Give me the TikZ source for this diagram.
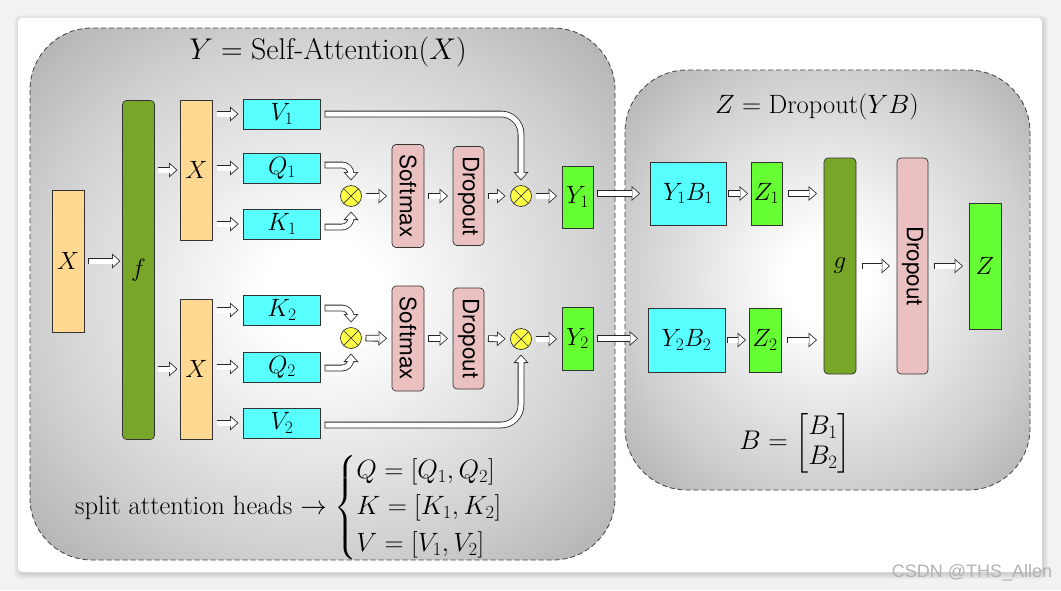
\RequirePackage{fix-cm}
\documentclass[tikz,border=0pt]{standalone}
\usepackage{amsmath}
\usepackage{graphicx}
\usepackage{fontspec}
\newfontfamily\hvfont{TeX Gyre Heros}
\newfontfamily\wmfont{Liberation Sans}
\usetikzlibrary{arrows.meta,calc}
\definecolor{cOrange}{HTML}{FFD991}
\definecolor{cOlive}{HTML}{77A628}
\definecolor{cCyan}{HTML}{57FFFF}
\definecolor{cPink}{HTML}{EBC0C0}
\definecolor{cGreen}{HTML}{66FF33}
\definecolor{cYellow}{HTML}{FFFF44}
\colorlet{pshA}{black!19}
\colorlet{pshB}{black!32}
\pgfdeclareradialshading{panelshade}{\pgfpoint{0bp}{0bp}}{color(0bp)=(white); color(5bp)=(white); color(25bp)=(pshA); color(36bp)=(pshB); color(50bp)=(pshB)}
\begin{document}
\begin{tikzpicture}[x=1pt,y=-1pt,
  every node/.style={inner sep=0pt, outer sep=0pt},
  lab/.style={font=\fontsize{25}{29}\selectfont},
  blk/.style={draw=black!80, line width=0.7pt, lab},
  orangebox/.style={blk, fill=cOrange, minimum width=32pt},
  olivebox/.style={blk, fill=cOlive, rounded corners=4pt, minimum width=32pt},
  cyanbox/.style={blk, fill=cCyan, minimum width=77pt, minimum height=30pt},
  greenbox/.style={blk, fill=cGreen, minimum width=31pt},
  pinkbox/.style={blk, fill=cPink, rounded corners=4pt, minimum width=32pt, font=\hvfont\fontsize{22.5}{26}\selectfont},
  mult/.style={circle, draw=black!80, line width=0.7pt, fill=cYellow, minimum size=21pt,
    path picture={\draw[line width=0.7pt]
      ([shift={(45:10.5pt)}]path picture bounding box.center) -- ([shift={(225:10.5pt)}]path picture bounding box.center)
      ([shift={(135:10.5pt)}]path picture bounding box.center) -- ([shift={(-45:10.5pt)}]path picture bounding box.center);}},
  harrow/.style 2 args={
    preaction={draw=black!85, line width=6.6pt, -{Triangle[length=8.5pt, width=15pt, line width=0pt]},
      shorten <=#1, shorten >=#2},
    draw=white, line width=5pt, -{Triangle[length=6.49pt, width=11.45pt, line width=0pt]},
    shorten <=#1+0.8pt, shorten >=#2+1.21pt},
  hA/.style={harrow={4pt}{5pt}},
  panel/.style={draw=black!75, line width=0.8pt, dash pattern=on 5pt off 3pt, rounded corners=62pt, shade, shading=panelshade}
]
% background and card
\fill[black!5] (0,0) rectangle (1061,590);
\foreach \i in {1,...,6}{
  \fill[black, opacity=0.025, rounded corners=6pt] (18-\i+2,18-\i+3) rectangle (1042+\i,572+\i+1);
}
\fill[white, rounded corners=4pt] (18,18) rectangle (1042,572);
\useasboundingbox (0,0) rectangle (1061,590);

% panels
\path[panel] (30,28) rectangle (615,560);
\path[panel] (625,70) rectangle (1030,490);

\node[font=\fontsize{30}{34}\selectfont] (t1) at (328,52) {$Y = \text{Self-Attention}(X)$};
\node[font=\fontsize{26.5}{30}\selectfont] (t2) at (817,107) {$Z = \text{Dropout}(Y B)$};

% left part
\node[orangebox, minimum height=142pt] (X0) at (68,261) {$X$};
\node[olivebox, minimum height=339pt] (f) at (138.5,270) {$f$};
\node[orangebox, minimum height=140pt] (Xa) at (196.5,170) {$X$};
\node[orangebox, minimum height=140pt] (Xb) at (196.5,369) {$X$};

\node[cyanbox] (V1) at (282,114) {$V_1$};
\node[cyanbox] (Q1) at (282,168) {$Q_1$};
\node[cyanbox] (K1) at (282,224) {$K_1$};
\node[cyanbox] (K2) at (282,310) {$K_2$};
\node[cyanbox] (Q2) at (282,367) {$Q_2$};
\node[cyanbox] (V2) at (282,423) {$V_2$};

\node[mult] (m1) at (351,196) {};
\node[mult] (m2) at (351,338) {};
\node[pinkbox, minimum height=103pt] (S1) at (408,196) {\rotatebox{-90}{Softmax}};
\node[pinkbox, minimum height=99pt, minimum width=31pt] (D1) at (468.5,196) {\rotatebox{-90}{Dropout}};
\node[pinkbox, minimum height=105pt] (S2) at (408,338.5) {\rotatebox{-90}{Softmax}};
\node[pinkbox, minimum height=101pt, minimum width=31pt] (D2) at (468.5,338.5) {\rotatebox{-90}{Dropout}};
\node[mult] (n1) at (521,196) {};
\node[mult] (n2) at (521,339) {};
\node[greenbox, minimum height=62pt] (Y1) at (577.5,197) {$Y_1$};
\node[greenbox, minimum height=63pt] (Y2) at (577.5,338.5) {$Y_2$};

% right part
\node[cyanbox, minimum width=76pt, minimum height=63pt] (YB1) at (688,193.5) {$Y_1B_1$};
\node[greenbox, minimum height=63pt] (Z1) at (766.5,193.5) {$Z_1$};
\node[cyanbox, minimum width=77pt, minimum height=64pt] (YB2) at (686.5,340) {$Y_2B_2$};
\node[greenbox, minimum width=32pt, minimum height=64pt] (Z2) at (765,340) {$Z_2$};
\node[olivebox, minimum height=216pt] (g) at (840,266) {$g$};
\node[pinkbox, minimum width=31pt, minimum height=216pt] (Dr) at (912.5,266) {\rotatebox{-90}{Dropout}};
\node[greenbox, minimum width=32pt, minimum height=126pt] (Z) at (985,266) {$Z$};

\node[font=\fontsize{27}{30}\selectfont] (Bm) at (795,443) {$B = \begin{bmatrix} B_1\\ B_2\end{bmatrix}$};
\node[font=\fontsize{26.5}{29}\selectfont] (split) at (302,508) {split attention heads $\rightarrow \begin{cases} Q=[Q_1,Q_2]\\[2pt] K=[K_1,K_2]\\[2pt] V=[V_1,V_2]\end{cases}$};

% connectors
\draw[harrow={4pt}{2pt}] (X0.east) -- (X0.east -| f.west);
\draw[harrow={3pt}{3pt}] (f.east |- Xa.west) -- (Xa.west);
\draw[harrow={3pt}{3pt}] (f.east |- Xb.west) -- (Xb.west);
\foreach \n in {V1,Q1,K1}{\draw[hA] (Xa.east |- \n.west) -- (\n.west);}
\foreach \n in {K2,Q2,V2}{\draw[hA] (Xb.east |- \n.west) -- (\n.west);}

\draw[hA, rounded corners=9pt] ([yshift=3pt]Q1.east) -| (m1.north);
\draw[hA, rounded corners=9pt] ([yshift=-3pt]K1.east) -| (m1.south);
\draw[hA, rounded corners=9pt] ([yshift=2pt]K2.east) -| (m2.north);
\draw[hA, rounded corners=9pt] ([yshift=-1pt]Q2.east) -| (m2.south);
\draw[hA, rounded corners=20pt] (V1.east) -| (n1.north);
\draw[hA, rounded corners=20pt] ([yshift=-2pt]V2.east) -| (n2.south);

\draw[hA] (m1) -- (S1);
\draw[hA] (S1) -- (D1);
\draw[hA] (D1) -- (n1);
\draw[hA] (n1) -- (n1 -| Y1.west);
\draw[hA] (m2) -- (S2);
\draw[hA] (S2) -- (D2);
\draw[hA] (D2) -- (n2);
\draw[hA] (n2) -- (n2 -| Y2.west);

\draw[harrow={4pt}{10pt}] (Y1.east |- YB1.west) -- (YB1.west);
\draw[harrow={4pt}{10pt}] (Y2.east) -- (Y2.east -| YB2.west);
\draw[harrow={2pt}{3pt}] (YB1) -- (Z1);
\draw[harrow={2pt}{3pt}] (YB2) -- (Z2);
\draw[harrow={6pt}{7pt}] (Z1.east) -- (Z1.east -| g.west);
\draw[harrow={6pt}{7pt}] (Z2.east) -- (Z2.east -| g.west);
\draw[harrow={6pt}{7pt}] (g) -- (Dr);
\draw[harrow={6pt}{6pt}] (Dr) -- (Z);

\node[font=\wmfont\fontsize{18}{21}\selectfont, text=black!30] (wm) at (972,573) {CSDN @THS\_Allen};
\end{tikzpicture}
\end{document}
